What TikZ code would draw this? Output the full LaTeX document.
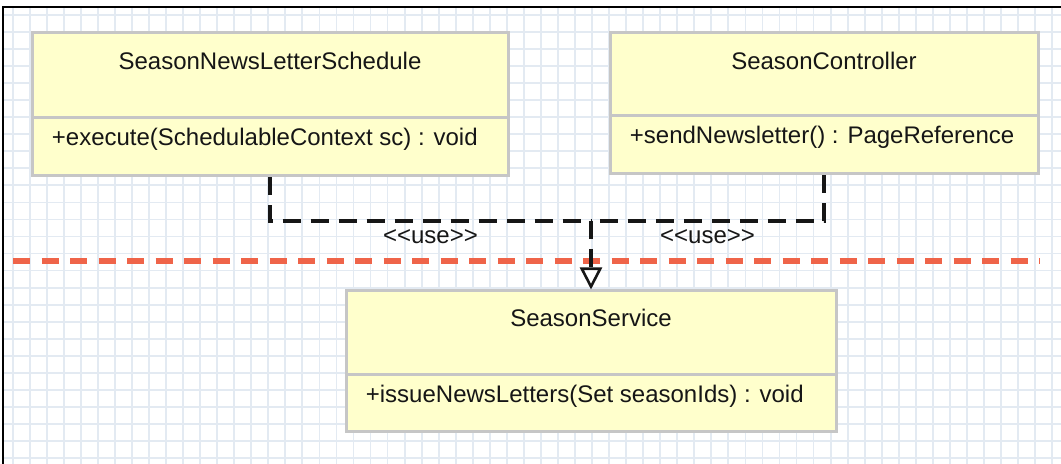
\documentclass[tikz,border=0pt]{standalone}
\usepackage{fontspec}
\setmainfont{Liberation Sans}
\usepackage{xcolor}
\usetikzlibrary{arrows.meta, positioning, calc}
\definecolor{ink}{HTML}{161616}
\definecolor{gridBlue}{HTML}{E3EAF2}
\definecolor{classFill}{HTML}{FFFFCC}
\definecolor{classLine}{HTML}{C6C6C6}
\definecolor{redDash}{HTML}{EF6449}
\newcommand{\umlstereo}[1]{<\kern0pt<#1>\kern0pt>}

\begin{document}
\begin{tikzpicture}[x=0.5pt, y=-0.5pt, font=\fontsize{12pt}{14pt}\selectfont, text=ink]
    \tikzset{
      cls/.style={rectangle, draw=classLine, line width=1.5pt, fill=classFill,
                  inner sep=0pt},
      sep/.style={draw=classLine, line width=1.2pt},
      ttl/.style={anchor=base, inner sep=0pt},
      op/.style={anchor=base west, inner sep=0pt},
      use/.style={draw=ink, line width=1.8pt, dash pattern=on 9pt off 5pt},
      lbl/.style={below=3.5pt, inner sep=0pt},
      gridline/.style={draw=gridBlue, line width=0.9pt},
      cut/.style={draw=redDash, line width=2.6pt, dash pattern=on 8.5pt off 5.75pt}
    }
    \useasboundingbox (0,0) rectangle (1061,464);
    % squared paper and frame
    \foreach \i in {0,...,61}
      \draw[gridline] (12.7+17.04*\i,7) -- (12.7+17.04*\i,464);
    \foreach \j in {0,...,26}
      \draw[gridline] (3,15+17.04*\j) -- (1061,15+17.04*\j);
    \draw[black, line width=0.75pt] (3,470) -- (3,7) -- (1070,7);
    % layer boundary
    \draw[cut] (13,261) -- (1040,261);
    % classes
    \node[cls, minimum width=238pt, minimum height=71.5pt] (sched) at (270,104.5) {};
    \draw[sep] ($(sched.north west)+(0,86)$) -- ($(sched.north east)+(0,86)$);
    \node[ttl] (schedName) at ($(sched.north)+(0,38)$) {SeasonNewsLetterSchedule};
    \node[op] (schedOp) at ($(sched.north west)+(21,114)$) {+execute(SchedulableContext sc) : void};
    \node[cls, minimum width=214pt, minimum height=70.5pt] (ctrl) at (824,103.5) {};
    \draw[sep] ($(ctrl.north west)+(0,84)$) -- ($(ctrl.north east)+(0,84)$);
    \node[ttl] (ctrlName) at ($(ctrl.north)+(0,38)$) {SeasonController};
    \node[op] (ctrlOp) at ($(ctrl.north west)+(21,112)$) {+sendNewsletter() : PageReference};
    \node[cls, minimum width=245pt, minimum height=70.5pt] (svc) at (591,361.5) {};
    \draw[sep] ($(svc.north west)+(0,85)$) -- ($(svc.north east)+(0,85)$);
    \node[ttl] (svcName) at ($(svc.north)+(0,37)$) {SeasonService};
    \node[op] (svcOp) at ($(svc.north west)+(21,113)$) {+issueNewsLetters(Set seasonIds) : void};
    % dependencies
    \coordinate (join) at (svc.north |- 0,221);
    \draw[use] (sched.south) |- (join) node[lbl, pos=0.75] (useA) {\umlstereo{use}};
    \draw[use] (ctrl.south) |- (join) node[lbl, pos=0.75] (useB) {\umlstereo{use}};
    \draw[use, -{Triangle[open, length=11pt, width=11pt, line width=1.3pt, fill=white]}] (join) -- (svc.north);
  \end{tikzpicture}
\end{document}
